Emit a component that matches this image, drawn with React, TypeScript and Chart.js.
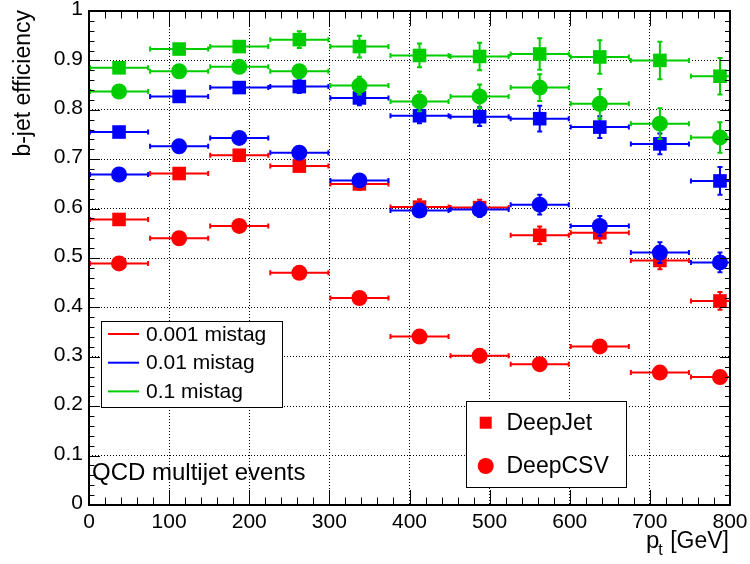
import React, { useEffect, useRef } from 'react';
import { Chart, registerables } from 'chart.js';

Chart.register(...registerables);

// ---------------- data ----------------
const binCenters = [37.5, 112.5, 187.5, 262.5, 337.5, 412.5, 487.5, 562.5, 637.5, 712.5, 787.5];
const binHalfWidth = 37.5;

const deepJet0001 = [0.578, 0.671, 0.708, 0.686, 0.650, 0.603, 0.602, 0.546, 0.551, 0.495, 0.413];
const deepJet0001Err = [0.004, 0.005, 0.006, 0.008, 0.014, 0.018, 0.018, 0.020, 0.022, 0.020, 0.020];
const deepCSV0001 = [0.489, 0.540, 0.565, 0.470, 0.419, 0.341, 0.302, 0.285, 0.321, 0.268, 0.259];
const deepCSV0001Err = [0.004, 0.004, 0.005, 0.005, 0.006, 0.006, 0.007, 0.007, 0.008, 0.008, 0.008];

const deepJet001 = [0.755, 0.827, 0.845, 0.847, 0.824, 0.788, 0.786, 0.782, 0.765, 0.731, 0.656];
const deepJet001Err = [0.004, 0.005, 0.006, 0.015, 0.017, 0.017, 0.021, 0.028, 0.024, 0.023, 0.030];
const deepCSV001 = [0.669, 0.726, 0.743, 0.713, 0.657, 0.596, 0.598, 0.608, 0.565, 0.511, 0.491];
const deepCSV001Err = [0.004, 0.005, 0.006, 0.008, 0.010, 0.014, 0.017, 0.022, 0.022, 0.023, 0.022];

const deepJet01 = [0.885, 0.923, 0.928, 0.942, 0.928, 0.910, 0.908, 0.913, 0.907, 0.900, 0.868];
const deepJet01Err = [0.004, 0.005, 0.007, 0.019, 0.024, 0.026, 0.030, 0.034, 0.036, 0.040, 0.039];
const deepCSV01 = [0.837, 0.878, 0.887, 0.878, 0.849, 0.817, 0.827, 0.845, 0.812, 0.772, 0.744];
const deepCSV01Err = [0.004, 0.005, 0.006, 0.008, 0.020, 0.022, 0.026, 0.029, 0.032, 0.033, 0.033];

const mistagLabels = ['0.001 mistag', '0.01 mistag', '0.1 mistag'];
const taggerLabels = ['DeepJet', 'DeepCSV'];
const xTickValues = [0, 100, 200, 300, 400, 500, 600, 700, 800];
const xTickLabels = ['0', '100', '200', '300', '400', '500', '600', '700', '800'];
const yTickValues = [0, 0.1, 0.2, 0.3, 0.4, 0.5, 0.6, 0.7, 0.8, 0.9, 1];
const yTickLabels = ['0', '0.1', '0.2', '0.3', '0.4', '0.5', '0.6', '0.7', '0.8', '0.9', '1'];
const yTitle = 'b-jet efficiency';
const xTitleMain = 'p';
const xTitleSub = 't';
const xTitleRest = ' [GeV]';
const sampleText = 'QCD multijet events';

// ---------------- styles ----------------
const FONT = '"Liberation Sans", Arial, Helvetica, sans-serif';
const RED = '#ff0000';
const BLUE = '#0000ff';
const GREEN = '#00cc00';
const mistagColors = [RED, BLUE, GREEN];

function points(vals: number[], errs: number[]) {
  return vals.map((v, i) => ({ x: binCenters[i], y: v, xErr: binHalfWidth, yErr: errs[i] }));
}

function makeDataset(label: string, vals: number[], errs: number[], color: string, square: boolean, order: number) {
  return {
    label,
    data: points(vals, errs),
    pointStyle: square ? 'rect' : 'circle',
    pointRadius: square ? 9.6 : 8,
    pointHoverRadius: square ? 9.6 : 8,
    pointBackgroundColor: color,
    pointBorderColor: color,
    pointBorderWidth: 0,
    showLine: false,
    order,
    errColor: color,
  };
}

const errorBarPlugin = {
  id: 'errorBars',
  beforeDatasetDraw(chart: any, args: any) {
    const ds = chart.data.datasets[args.index];
    const xs = chart.scales.x;
    const ys = chart.scales.y;
    const ctx = chart.ctx;
    const ca = chart.chartArea;
    ctx.save();
    ctx.beginPath();
    ctx.rect(ca.left, ca.top, ca.right - ca.left, ca.bottom - ca.top);
    ctx.clip();
    ctx.strokeStyle = ds.errColor;
    ctx.lineWidth = 2;
    ctx.beginPath();
    ds.data.forEach((p: any) => {
      const x0 = xs.getPixelForValue(p.x - p.xErr);
      const x1 = xs.getPixelForValue(p.x + p.xErr);
      const xc = xs.getPixelForValue(p.x);
      const y = ys.getPixelForValue(p.y);
      const yt = ys.getPixelForValue(p.y + p.yErr);
      const yb = ys.getPixelForValue(p.y - p.yErr);
      ctx.moveTo(x0, y); ctx.lineTo(x1, y);
      ctx.moveTo(xc, yt); ctx.lineTo(xc, yb);
      ctx.moveTo(x0 + 1, y - 2.5); ctx.lineTo(x0 + 1, y + 2.5);
      ctx.moveTo(x1 - 1, y - 2.5); ctx.lineTo(x1 - 1, y + 2.5);
      ctx.moveTo(xc - 2.5, yt + 1); ctx.lineTo(xc + 2.5, yt + 1);
      ctx.moveTo(xc - 2.5, yb - 1); ctx.lineTo(xc + 2.5, yb - 1);
    });
    ctx.stroke();
    ctx.restore();
  },
};

const framePlugin = {
  id: 'rootFrame',
  afterDatasetsDraw(chart: any) {
    const { ctx, chartArea: ca } = chart;
    const xs = chart.scales.x;
    const ys = chart.scales.y;
    ctx.save();
    ctx.strokeStyle = '#000';
    ctx.lineWidth = 1;
    ctx.beginPath();
    for (let i = 0; i <= 40; i++) {
      const px = Math.round(xs.getPixelForValue(i * 20)) + 0.5;
      const len = i % 5 === 0 ? 15 : 7.5;
      ctx.moveTo(px, ca.bottom); ctx.lineTo(px, ca.bottom - len);
      ctx.moveTo(px, ca.top); ctx.lineTo(px, ca.top + len);
    }
    for (let i = 0; i <= 50; i++) {
      const py = Math.round(ys.getPixelForValue(i * 0.02)) + 0.5;
      const lenL = i % 5 === 0 ? 11 : 5.5;
      const lenR = i % 5 === 0 ? 10 : 5;
      ctx.moveTo(ca.left, py); ctx.lineTo(ca.left + lenL, py);
      ctx.moveTo(ca.right, py); ctx.lineTo(ca.right - lenR, py);
    }
    ctx.stroke();
    ctx.lineWidth = 2;
    ctx.strokeRect(ca.left, ca.top, ca.right - ca.left, ca.bottom - ca.top);
    ctx.restore();
  },
  afterDraw(chart: any) {
    const { ctx } = chart;
    ctx.save();
    // legend 1 (mistag working points)
    ctx.fillStyle = '#fff';
    ctx.fillRect(101.5, 321.5, 181, 86);
    ctx.strokeStyle = '#000';
    ctx.lineWidth = 1;
    ctx.strokeRect(101.5, 321.5, 181, 86);
    ctx.font = `21px ${FONT}`;
    ctx.textBaseline = 'middle';
    ctx.textAlign = 'left';
    mistagLabels.forEach((lab, i) => {
      const yy = 334 + i * 28.7;
      ctx.strokeStyle = mistagColors[i];
      ctx.lineWidth = 2;
      ctx.beginPath();
      ctx.moveTo(108, yy); ctx.lineTo(139, yy);
      ctx.stroke();
      ctx.fillStyle = '#000';
      ctx.fillText(lab, 146, yy + 1);
    });
    // legend 2 (taggers)
    ctx.fillStyle = '#fff';
    ctx.fillRect(466.5, 401.5, 160, 86);
    ctx.strokeStyle = '#000';
    ctx.lineWidth = 1;
    ctx.strokeRect(466.5, 401.5, 160, 86);
    ctx.fillStyle = RED;
    ctx.fillRect(485.7 - 6, 422.7 - 6, 12, 12);
    ctx.beginPath();
    ctx.arc(485.7, 466, 8, 0, Math.PI * 2);
    ctx.fill();
    ctx.fillStyle = '#000';
    ctx.font = `23px ${FONT}`;
    ctx.fillText(taggerLabels[0], 506.5, 424);
    ctx.fillText(taggerLabels[1], 506.5, 467);
    // sample label
    ctx.font = `24px ${FONT}`;
    ctx.textBaseline = 'alphabetic';
    ctx.fillText(sampleText, 92, 479.5);
    // y title
    ctx.save();
    ctx.translate(30, 10);
    ctx.rotate(-Math.PI / 2);
    ctx.font = `23px ${FONT}`;
    ctx.textAlign = 'right';
    ctx.textBaseline = 'alphabetic';
    ctx.fillText(yTitle, 0, 0);
    ctx.restore();
    // x title with subscript
    ctx.font = `23px ${FONT}`;
    ctx.textAlign = 'left';
    const restW = ctx.measureText(xTitleRest).width;
    const rightX = 729;
    const restX = rightX - restW;
    ctx.font = `16px ${FONT}`;
    const subW = ctx.measureText(xTitleSub).width;
    const subX = restX - subW - 1;
    ctx.fillText(xTitleSub, subX, 555);
    ctx.font = `24px ${FONT}`;
    const pW = ctx.measureText(xTitleMain).width;
    ctx.fillText(xTitleMain, subX - pW + 1, 548);
    ctx.font = `23px ${FONT}`;
    ctx.fillText(xTitleRest, restX, 548);
    ctx.restore();
  },
};

export default function App() {
  const ref = useRef<HTMLCanvasElement | null>(null);
  useEffect(() => {
    document.body.style.margin = '0';
    const canvas = ref.current;
    if (!canvas) return;
    const chart = new Chart(canvas, {
      type: 'scatter',
      data: {
        datasets: [
          makeDataset('DeepJet 0.001', deepJet0001, deepJet0001Err, RED, true, 6),
          makeDataset('DeepCSV 0.001', deepCSV0001, deepCSV0001Err, RED, false, 5),
          makeDataset('DeepJet 0.01', deepJet001, deepJet001Err, BLUE, true, 4),
          makeDataset('DeepCSV 0.01', deepCSV001, deepCSV001Err, BLUE, false, 3),
          makeDataset('DeepJet 0.1', deepJet01, deepJet01Err, GREEN, true, 2),
          makeDataset('DeepCSV 0.1', deepCSV01, deepCSV01Err, GREEN, false, 1),
        ] as any,
      },
      options: {
        animation: false,
        responsive: false,
        devicePixelRatio: 1,
        events: [],
        layout: { padding: { top: 11, right: 20, left: 0, bottom: 0 } },
        plugins: { legend: { display: false }, tooltip: { enabled: false }, title: { display: false } },
        scales: {
          x: {
            type: 'linear',
            min: 0,
            max: 800,
            afterBuildTicks: (s: any) => { s.ticks = xTickValues.map((v) => ({ value: v })); },
            afterFit: (s: any) => { s.height = 59; s.paddingLeft = 0; s.paddingRight = 0; },
            ticks: {
              autoSkip: false,
              maxRotation: 0,
              padding: 5,
              color: '#000',
              font: { family: FONT, size: 21 },
              callback: (_v: any, i: number) => xTickLabels[i],
            },
            grid: { color: '#000', lineWidth: 1, drawTicks: false },
            border: { display: false, dash: [1, 2] },
          },
          y: {
            type: 'linear',
            min: 0,
            max: 1,
            afterBuildTicks: (s: any) => { s.ticks = yTickValues.map((v) => ({ value: v })); },
            afterFit: (s: any) => { s.width = 89; s.paddingTop = 0; s.paddingBottom = 0; },
            ticks: {
              autoSkip: false,
              padding: 6,
              labelOffset: -1.5,
              color: '#000',
              font: { family: FONT, size: 21 },
              callback: (_v: any, i: number) => yTickLabels[i],
            },
            grid: { color: '#000', lineWidth: 1, drawTicks: false },
            border: { display: false, dash: [1, 2] },
          },
        },
      } as any,
      plugins: [errorBarPlugin, framePlugin],
    });
    return () => chart.destroy();
  }, []);
  return (
    <div style={{ position: 'fixed', left: 0, top: 0, width: 750, height: 564, background: '#fff' }}>
      <canvas ref={ref} width={750} height={564} style={{ display: 'block' }} />
    </div>
  );
}
